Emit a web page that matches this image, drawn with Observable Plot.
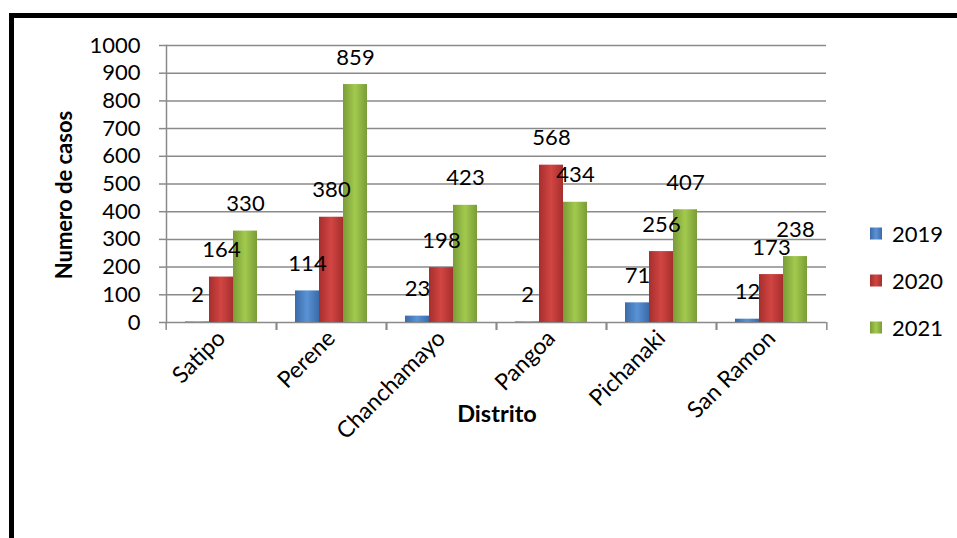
<!DOCTYPE html>
<html>
<head>
<meta charset="utf-8">
<script src="https://cdn.jsdelivr.net/npm/d3@7"></script>
<script src="https://cdn.jsdelivr.net/npm/@observablehq/plot@0.6"></script>
<style>
  html, body { margin: 0; padding: 0; background: #fff; }
  #wrap { position: relative; width: 957px; height: 538px; overflow: hidden; font-family: Lato, "Open Sans", sans-serif; }
  #chart { position: absolute; left: 0; top: 0; }
  #frame { position: absolute; left: 9px; top: 13px; width: 1000px; height: 600px; border-left: 5px solid #000; border-top: 5px solid #000; box-sizing: border-box; pointer-events: none; }
  .ytitle { position: absolute; left: 63px; top: 195px; transform: translate(-50%, -50%) rotate(-90deg); font-weight: bold; font-size: 22px; white-space: nowrap; }
  .xtitle { position: absolute; left: 497px; top: 413px; transform: translate(-50%, -50%); font-weight: bold; font-size: 23.5px; white-space: nowrap; }
  .legend { position: absolute; left: 870px; top: 0; font-size: 22px; }
  .legend .item { position: absolute; left: 0; display: flex; align-items: center; white-space: nowrap; transform: translateY(-50%); }
  .legend .sw { width: 12px; height: 12px; margin-right: 10px; }
</style>
</head>
<body>
<div id="wrap">
  <div id="chart"></div>
  <div class="ytitle">Numero de casos</div>
  <div class="xtitle">Distrito</div>
  <div class="legend" id="legend"></div>
  <div id="frame"></div>
</div>
<script>
// ---- data ----
const distritos = ["Satipo", "Perene", "Chanchamayo", "Pangoa", "Pichanaki", "San Ramon"];
const years = ["2019", "2020", "2021"];
const casos2019 = [2, 114, 23, 2, 71, 12];
const casos2020 = [164, 380, 198, 568, 256, 173];
const casos2021 = [330, 859, 423, 434, 407, 238];
const yTicks = [0, 100, 200, 300, 400, 500, 600, 700, 800, 900, 1000];
const yearColors = [
  ["#3b6aa8", "#5a93d6", "#3b6aa8"],
  ["#a52f2d", "#d24542", "#a52f2d"],
  ["#7a9c36", "#a2ca4e", "#7a9c36"]
];

const series = [casos2019, casos2020, casos2021];
const data = [];
distritos.forEach((d, i) => years.forEach((y, j) => data.push({distrito: d, year: y, value: series[j][i]})));

const W = 957, H = 538, ML = 164, MR = 129, MT = 45, MB = 216;
const step = (W - ML - MR) / distritos.length;
const barW = 25;
const gradIds = years.map(y => "grad" + y);

const plot = Plot.plot({
  width: W, height: H,
  marginLeft: ML, marginRight: MR, marginTop: MT, marginBottom: MB,
  style: {fontFamily: "Lato, 'Open Sans', sans-serif", fontSize: "22px", color: "#000", background: "transparent", overflow: "visible"},
  fx: {domain: distritos, paddingInner: 0, paddingOuter: 0, label: null},
  x: {domain: years, paddingInner: 0, paddingOuter: (step / barW - 3) / 2, axis: null},
  y: {domain: [0, 1000], label: null},
  color: {domain: years, range: gradIds.map(id => `url(#${id})`)},
  marks: [
    Plot.gridY(yTicks, {stroke: "#8a8a8a", strokeOpacity: 1, strokeWidth: 1.5}),
    Plot.axisY(yTicks, {anchor: "left", tickSize: 7, tickPadding: 19, tickFormat: d => String(d), stroke: "#8a8a8a", strokeWidth: 1.5, fill: "#000", fontSize: 22, label: null}),
    Plot.frame({anchor: "left", facet: "super", stroke: "#8a8a8a", strokeWidth: 1.5}),
    Plot.barY(data, {fx: "distrito", x: "year", y: "value", fill: "year"}),
    Plot.text(data, {fx: "distrito", x: "year", y: "value", text: d => String(d.value), dy: -27, fontSize: 22, fill: "#000"}),
    Plot.axisFx({anchor: "bottom", tickSize: 0, tickRotate: -45, tickPadding: 12, label: null, fontSize: 23}),
    Plot.axisFx({anchor: "bottom", tickSize: 8, text: null, label: null, dx: -step / 2, stroke: "#8a8a8a", strokeWidth: 1.5}),
    Plot.axisFx(distritos.slice(-1), {anchor: "bottom", tickSize: 8, text: null, label: null, dx: step / 2, stroke: "#8a8a8a", strokeWidth: 1.5})
  ]
});

// gradient definitions for the bevelled Excel-style bars
const svg = d3.select(plot);
const defs = svg.insert("defs", ":first-child");
years.forEach((y, j) => {
  const g = defs.append("linearGradient").attr("id", gradIds[j]).attr("x1", "0").attr("x2", "1").attr("y1", "0").attr("y2", "0");
  g.append("stop").attr("offset", "0%").attr("stop-color", yearColors[j][0]);
  g.append("stop").attr("offset", "50%").attr("stop-color", yearColors[j][1]);
  g.append("stop").attr("offset", "100%").attr("stop-color", yearColors[j][2]);
});
document.getElementById("chart").appendChild(plot);

// legend
const legendRows = [233, 280, 327];
const legend = document.getElementById("legend");
years.forEach((y, j) => {
  const item = document.createElement("div");
  item.className = "item";
  item.style.top = legendRows[j] + "px";
  const sw = document.createElement("div");
  sw.className = "sw";
  sw.style.background = `linear-gradient(to right, ${yearColors[j][0]}, ${yearColors[j][1]}, ${yearColors[j][2]})`;
  const t = document.createElement("span");
  t.textContent = y;
  item.appendChild(sw); item.appendChild(t);
  legend.appendChild(item);
});
</script>
</body>
</html>
